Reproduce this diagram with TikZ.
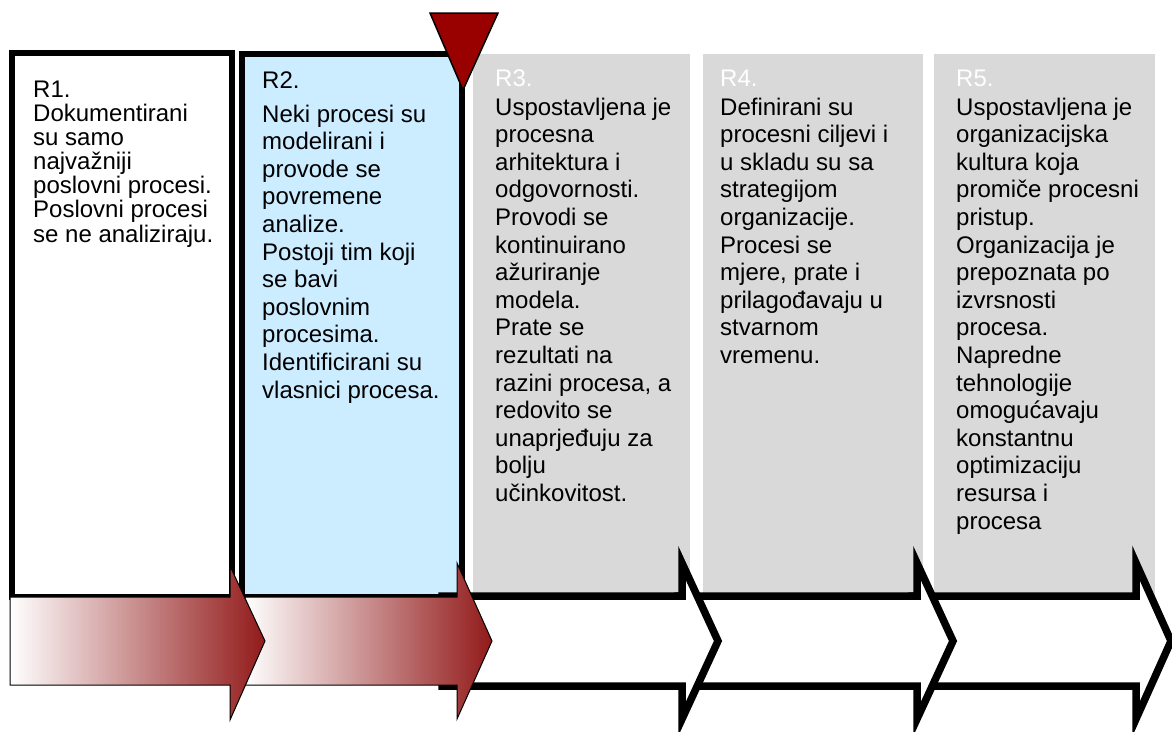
\documentclass[tikz,border=0pt]{standalone}
\usepackage{fontspec}
\setmainfont{Liberation Sans}
\definecolor{boxblue}{HTML}{CCECFF}
\definecolor{boxgray}{HTML}{D9D9D9}
\definecolor{markred}{HTML}{990000}
\definecolor{arrred}{HTML}{921A1A}
\begin{document}
\begin{tikzpicture}[x=1pt,y=-1pt,
  txt/.style={anchor=base west, inner sep=0pt, align=left, font=\fontsize{24}{27.6}\selectfont},
  tighttxt/.style={txt, font=\fontsize{24}{24.2}\selectfont},
  hdrw/.style={txt, text=white},
  frame/.style={line width=6pt, line join=miter},
  graybox/.style={fill=boxgray, draw=none},
  gradarrow/.style={draw=black, line width=1pt, left color=white, right color=arrred, line join=miter},
  whitearrow/.style={draw=black, line width=7.5pt, fill=white, line join=miter},
  marker/.style={draw=black, line width=1.5pt, fill=markred, line join=miter}]
\useasboundingbox (0,0) rectangle (1172,731);
\fill[white] (0,0) rectangle (1172,731);
% stage boxes
\fill[graybox] (473,54) rectangle (690,596);
\fill[graybox] (703,54) rectangle (923,596);
\fill[graybox] (934,54) rectangle (1155,596);
\draw[frame] (11.5,53) rectangle (232,597);
\draw[frame, fill=boxblue] (242,53.5) rectangle (461.5,597);
% current-stage marker
\draw[marker] (430,13) -- (498,13) -- (463,90) -- cycle;
% arrows, right to left
\draw[whitearrow] (912,596) -- (1136,596) -- (1136,563) -- (1171,641) -- (1136,719) -- (1136,686) -- (912,686) -- cycle;
\draw[whitearrow] (678,596) -- (917,596) -- (917,563) -- (953,641) -- (917,719) -- (917,686) -- (678,686) -- cycle;
\draw[whitearrow] (442,596) -- (682,596) -- (682,563) -- (718,641) -- (682,719) -- (682,686) -- (442,686) -- cycle;
\draw[gradarrow] (245,597) -- (457,597) -- (457,563) -- (492,641) -- (457,719) -- (457,685) -- (245,685) -- cycle;
\draw[gradarrow] (10,597) -- (230,597) -- (230,566) -- (265,641) -- (230,720) -- (230,685) -- (10,685) -- cycle;
% texts (base anchor = baseline of the last line)
\node[txt] (r1h) at (33,97) {R1.};
\node[tighttxt] (r1b) at (33,242) {Dokumentirani\\su samo\\najvažniji\\poslovni procesi.\\Poslovni procesi\\se ne analiziraju.};
\node[txt] (r2h) at (262,88) {R2.};
\node[txt] (r2b) at (262,398) {Neki procesi su\\modelirani i\\provode se\\povremene\\analize.\\Postoji tim koji\\se bavi\\poslovnim\\procesima.\\Identificirani su\\vlasnici procesa.};
\node[hdrw] (r3h) at (495,86) {R3.};
\node[txt] (r3b) at (495,501.4) {Uspostavljena je\\procesna\\arhitektura i\\odgovornosti.\\Provodi se\\kontinuirano\\ažuriranje\\modela.\\Prate se\\rezultati na\\razini procesa, a\\redovito se\\unaprjeđuju za\\bolju\\učinkovitost.};
\node[hdrw] (r4h) at (720,86) {R4.};
\node[txt] (r4b) at (720,363.4) {Definirani su\\procesni ciljevi i\\u skladu su sa\\strategijom\\organizacije.\\Procesi se\\mjere, prate i\\prilagođavaju u\\stvarnom\\vremenu.};
\node[hdrw] (r5h) at (956,86) {R5.};
\node[txt] (r5b) at (956,529) {Uspostavljena je\\organizacijska\\kultura koja\\promiče procesni\\pristup.\\Organizacija je\\prepoznata po\\izvrsnosti\\procesa.\\Napredne\\tehnologije\\omogućavaju\\konstantnu\\optimizaciju\\resursa i\\procesa};
\end{tikzpicture}
\end{document}
